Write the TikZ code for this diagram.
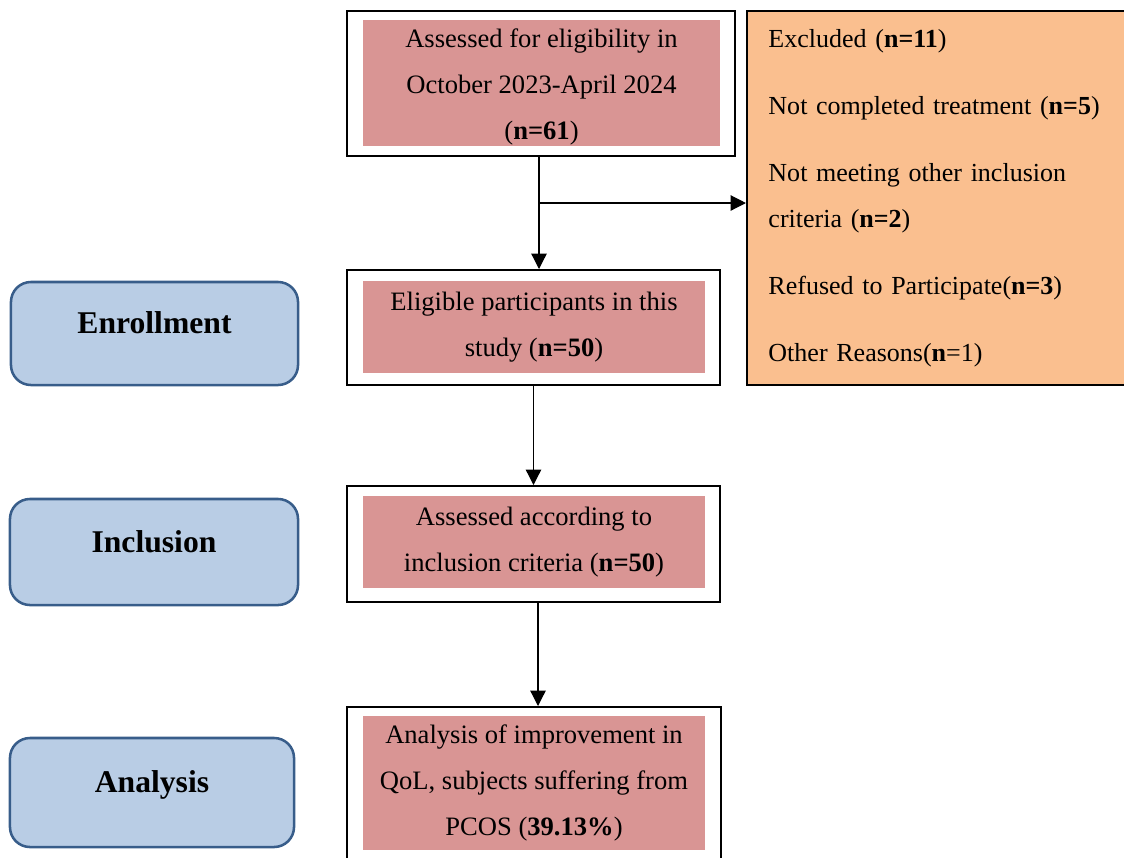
\documentclass[tikz,border=0pt]{standalone}
\usepackage{fontspec}
\setmainfont{Liberation Serif}
\usepackage{tikz}
\usetikzlibrary{arrows.meta, positioning, calc}
\definecolor{pinkfill}{RGB}{217, 149, 148}
\definecolor{exclfill}{RGB}{250, 191, 143}
\definecolor{phasefill}{RGB}{185, 205, 229}
\definecolor{phaseline}{RGB}{56, 93, 138}

\tikzset{
  outerbox/.style={draw=black, line width=1.4pt, fill=white, rectangle, inner sep=0pt},
  pinkbox/.style={fill=pinkfill, rectangle, inner sep=0pt, align=center,
    font=\fontsize{18.9}{32.7}\selectfont},
  exclbox/.style={draw=black, line width=1.4pt, fill=exclfill, rectangle, inner sep=0pt,
    align=left, text width=8.5cm, font=\fontsize{18.5}{32.7}\selectfont},
  phasebox/.style={draw=phaseline, line width=1.8pt, fill=phasefill, rectangle,
    rounded corners=0.5cm, font=\fontsize{22.5}{27}\selectfont\bfseries,
    text height=0.7em, text depth=0.64em},
  flow/.style={line width=0.9pt, -{Triangle[length=11pt, width=11pt]}}
}

\begin{document}
\begin{tikzpicture}[x=0.025cm, y=-0.025cm]
  \useasboundingbox (0,0) rectangle (1124,857);

  % ---- Phase labels ----
  \node[phasebox, minimum width=7.175cm, minimum height=2.575cm] (enroll) at (154.5,333.5) {Enrollment};
  \node[phasebox, minimum width=7.2cm, minimum height=2.65cm] (incl) at (154,552) {Inclusion};
  \node[phasebox, minimum width=7.1cm, minimum height=2.725cm] (anal) at (152,792.5) {Analysis};

  % ---- Flow boxes ----
  \node[outerbox, minimum width=9.7cm, minimum height=3.625cm] (assess) at (541,83.5) {};
  \node[pinkbox, minimum width=8.925cm, minimum height=3.15cm] (assesstxt) at (541.5,83)
    {\rule{0pt}{19pt}Assessed for eligibility in\\October 2023-April 2024\\(\textbf{n=61})};

  \node[outerbox, minimum width=9.325cm, minimum height=2.875cm] (elig) at (533.5,327.5) {};
  \node[pinkbox, minimum width=8.55cm, minimum height=2.3cm] (eligtxt) at (534,327)
    {Eligible participants in this\\study (\textbf{n=50})};

  \node[outerbox, minimum width=9.325cm, minimum height=2.9cm] (crit) at (533.5,544) {};
  \node[pinkbox, minimum width=8.55cm, minimum height=2.3cm] (crittxt) at (534,542)
    {Assessed according to\\inclusion criteria (\textbf{n=50})};

  \node[outerbox, minimum width=9.35cm, minimum height=4.075cm] (qol) at (534,788.5) {};
  \node[pinkbox, minimum width=8.55cm, minimum height=3.35cm] (qoltxt) at (534,783)
    {Analysis of improvement in\\QoL, subjects suffering from\\PCOS (\textbf{39.13\%})};

  % ---- Excluded ----
  \node[exclbox, minimum width=9.575cm, minimum height=9.35cm] (excl) at (938.5,198)
    {Excluded (\textbf{n=11})\\[15pt]
     Not completed treatment (\textbf{n=5})\\[15pt]
     Not meeting other inclusion\\
     criteria (\textbf{n=2})\\[15pt]
     Refused to Participate(\textbf{n=3})\\[15pt]
     Other Reasons(\textbf{n}=1)};

  % ---- Connectors ----
  \coordinate (atop) at ($(assess.south)+(-2,0)$);
  \coordinate (branch) at ($(assess.south)+(-2,46)$);
  \coordinate (ctop) at ($(crit.south)+(4.5,0)$);
  \draw[flow] (atop) -- (atop |- elig.north);
  \draw[flow] (branch) -- (branch -| excl.west);
  \draw[flow] (elig.south) -- (elig.south |- crit.north);
  \draw[flow] (ctop) -- (ctop |- qol.north);
\end{tikzpicture}
\end{document}
